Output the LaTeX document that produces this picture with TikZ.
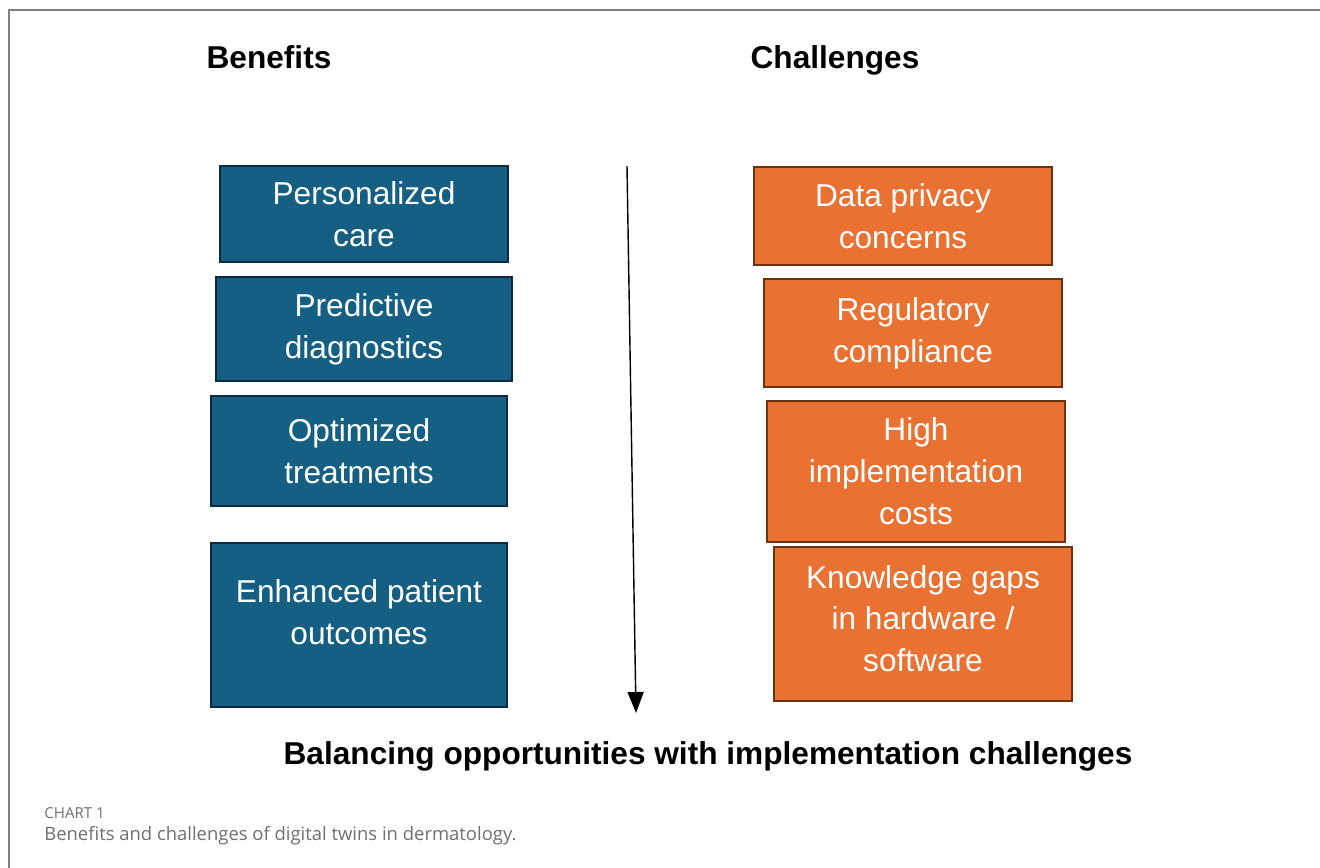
\documentclass[tikz,border=0pt]{standalone}
\usepackage{fontspec}
\setmainfont{Liberation Sans}
\newfontfamily\capfont{Open Sans}
\usepackage{tikz}
\usetikzlibrary{arrows.meta}
\usetikzlibrary{positioning}

\definecolor{benblue}{HTML}{156082}
\definecolor{benedge}{HTML}{0E2841}
\definecolor{chalorange}{HTML}{E97132}
\definecolor{chaledge}{HTML}{6E300E}
\definecolor{capgray}{HTML}{6F6F6F}

\begin{document}
\begin{tikzpicture}[x=0.02cm,y=-0.02cm,
        benefit/.style={draw=benedge,fill=benblue,line width=1.5pt,text=white,
            align=center,font=\fontsize{18}{23.8}\selectfont,inner sep=0pt},
        challenge/.style={draw=chaledge,fill=chalorange,line width=1.5pt,text=white,
            align=center,font=\fontsize{18}{23.8}\selectfont,inner sep=0pt},
        heading/.style={font=\fontsize{18}{20}\selectfont\bfseries,anchor=base}]
            \useasboundingbox (0,0) rectangle (1320,868);
            \draw[color=gray,line width=1pt] (9,868) -- (9,10) -- (1320,10);

            \node[heading] (benefits) at (269,68.5) {Benefits};
            \node[heading] (challenges) at (835,68.5) {Challenges};

            \node[benefit,minimum width=5.76cm,minimum height=1.92cm] (care) at (364,214) {Personalized\\care};
            \node[benefit,minimum width=5.92cm,minimum height=2.08cm] (diag) at (364,329) {Predictive\\diagnostics};
            \node[benefit,minimum width=5.92cm,minimum height=2.2cm] (treat) at (359,451) {Optimized\\treatments};
            \node[benefit,minimum width=5.92cm,minimum height=3.28cm] (outcome) at (359,625)
                {\raisebox{0.2cm}[\height][\depth]{\begin{tabular}{@{}c@{}}Enhanced patient\\outcomes\end{tabular}}};

            \node[challenge,minimum width=5.96cm,minimum height=1.96cm] (privacy) at (903,216) {Data privacy\\concerns};
            \node[challenge,minimum width=5.96cm,minimum height=2.16cm] (regul) at (913,333) {Regulatory\\compliance};
            \node[challenge,minimum width=5.96cm,minimum height=2.82cm] (costs) at (916,471.5) {High\\implementation\\costs};
            \node[challenge,minimum width=5.96cm,minimum height=3.08cm] (gaps) at (923,624)
                {\raisebox{0.05cm}[\height][\depth]{\begin{tabular}{@{}c@{}}Knowledge gaps\\in hardware /\\software\end{tabular}}};

            \coordinate (top) at (627,166);
            \coordinate (bottom) at (636,713);
            \draw[-{Triangle[length=4.2mm,width=3.2mm]},line width=0.8pt] (top) -- (bottom);

            \node[heading] (balance) at (708,764) {Balancing opportunities with implementation challenges};

            \node[anchor=west,inner sep=0pt,text=capgray,font=\capfont\fontsize{8.6}{10}\selectfont] (chart) at (44,813) {CHART 1};
            \node[anchor=west,inner sep=0pt,text=capgray,font=\capfont\fontsize{10.5}{12}\selectfont] (caption) at (44,836) {Benefits and challenges of digital twins in dermatology.};
        \end{tikzpicture}
\end{document}
